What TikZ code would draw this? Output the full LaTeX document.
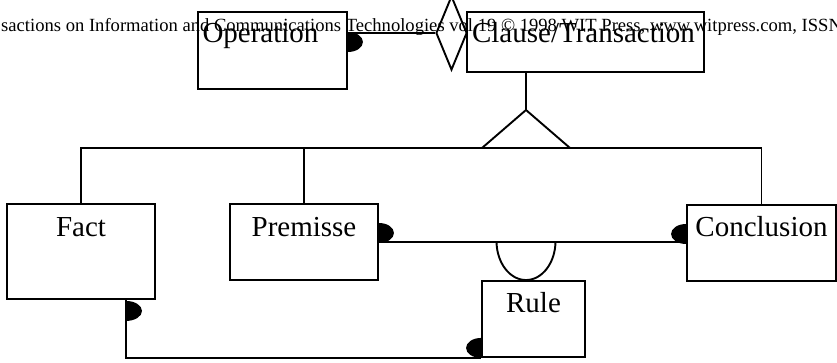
\documentclass[tikz,border=0pt]{standalone}
\usepackage{fontspec}
\setmainfont{Liberation Serif}
\usetikzlibrary{shapes.geometric}
\tikzset{
  entity/.style={draw,line width=1.9pt,inner sep=0pt},
  lbl/.style={font=\fontsize{29}{32}\selectfont,inner sep=0pt,anchor=base},
  header/.style={font=\fontsize{18.6}{21}\selectfont,inner sep=0pt,anchor=base west},
  conn/.style={line width=1.9pt},
  blob/.style={fill=black}
}

\begin{document}
\begin{tikzpicture}[x=1pt,y=1pt]
\useasboundingbox (0,0) rectangle (837,363);
\clip (0,0) rectangle (837,363);
\node[header] (hdr) at (1,331) {sactions on Information and Communications Technologies vol 19 \textcopyright{} 1998 WIT Press, www.witpress.com, ISSN};

% entities
\node[entity,minimum width=149,minimum height=77] (op) at (272.5,312.5) {};
\node[entity,minimum width=237,minimum height=60] (clause) at (585.5,321) {};
\node[entity,diamond,minimum width=31,minimum height=74] (dia) at (451.5,330) {};
\node[entity,minimum width=148,minimum height=95] (fact) at (81,111.5) {};
\node[entity,minimum width=148,minimum height=76] (premisse) at (304,121) {};
\node[entity,minimum width=149,minimum height=76] (conc) at (761.5,120) {};
\node[entity,minimum width=103,minimum height=76] (rule) at (533.5,44) {};

\node[lbl] (oplbl) at ([xshift=-12,yshift=-31]op.north) {Operation};
\node[lbl] (clauselbl) at ([xshift=-2,yshift=-31]clause.north) {Clause/Transaction};
\node[lbl] (factlbl) at ([yshift=-33]fact.north) {Fact};
\node[lbl] (premisselbl) at ([yshift=-33]premisse.north) {Premisse};
\node[lbl] (conclbl) at ([yshift=-32]conc.north) {Conclusion};
\node[lbl] (rulelbl) at ([yshift=-32]rule.north) {Rule};

% generalisation
\coordinate (apex) at (526,253);
\coordinate (bus) at (526,215);
\draw[conn] (clause.south -| apex) -- (apex);
\draw[conn] (apex) -- ([xshift=-44]bus) -- ([xshift=44]bus) -- cycle;
\draw[conn] (fact.north) |- (bus) -| (conc.north);
\draw[conn] (premisse.north) -- (premisse.north |- bus);

% relationships
\draw[conn] (op.east |- dia.west) -- (dia.west);
\fill[blob] ([yshift=18.5]op.east) arc[start angle=90,end angle=-90,x radius=15,y radius=10] -- cycle;

\draw[conn] (premisse.east) -- (premisse.east -| conc.west);
\fill[blob] ([yshift=19]premisse.east) arc[start angle=90,end angle=-90,x radius=15,y radius=10] -- cycle;
\fill[blob] ([yshift=19]conc.west) arc[start angle=90,end angle=270,x radius=15,y radius=10] -- cycle;
\draw[conn] ([xshift=-7.5]rule.north) arc[start angle=270,end angle=180,x radius=29.5,y radius=39];
\draw[conn] ([xshift=-7.5]rule.north) arc[start angle=270,end angle=360,x radius=29.5,y radius=39];

\draw[conn] ([xshift=45]fact.south) |- (rule.south west);
\fill[blob] ([xshift=45,yshift=-1]fact.south) arc[start angle=90,end angle=-90,x radius=16,y radius=10] -- cycle;
\fill[blob] ([yshift=20]rule.south west) arc[start angle=90,end angle=270,x radius=15,y radius=10] -- cycle;
\end{tikzpicture}
\end{document}
